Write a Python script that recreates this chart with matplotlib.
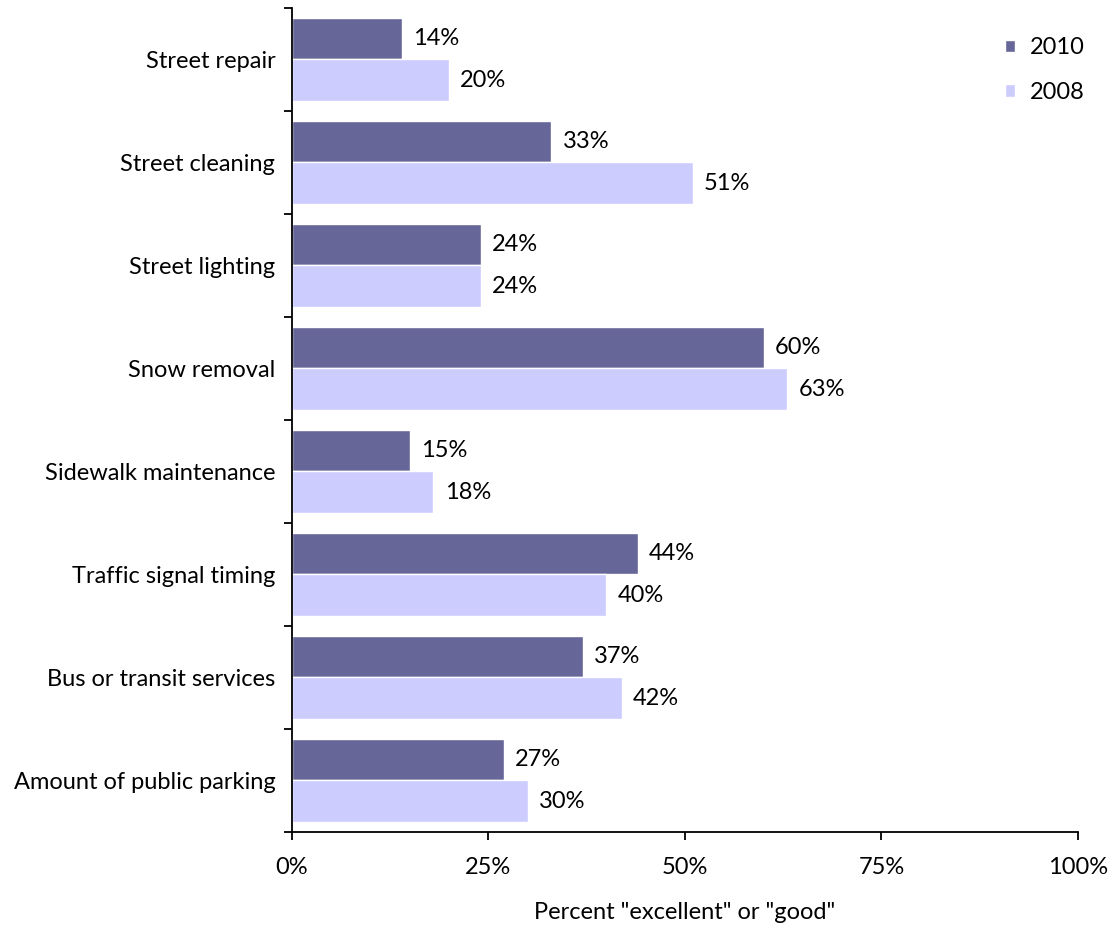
import matplotlib.pyplot as plt
import numpy as np
from matplotlib.ticker import FixedLocator, PercentFormatter

plt.rcParams["font.family"] = ["Lato", "DejaVu Sans"]

services = [
    "Street repair",
    "Street cleaning",
    "Street lighting",
    "Snow removal",
    "Sidewalk maintenance",
    "Traffic signal timing",
    "Bus or transit services",
    "Amount of public parking",
]
pct_2010 = [14, 33, 24, 60, 15, 44, 37, 27]
pct_2008 = [20, 51, 24, 63, 18, 40, 42, 30]

color_2010 = "#666699"
color_2008 = "#ccccff"
fs = 17

fig = plt.figure(figsize=(11.11, 9.30), dpi=100)
ax = fig.add_axes([0.2628, 0.1054, 0.7075, 0.886])

y = np.arange(len(services))
h = 0.4
b1 = ax.barh(y - h / 2, pct_2010, height=h, color=color_2010,
             edgecolor="white", linewidth=1, label="2010")
b2 = ax.barh(y + h / 2, pct_2008, height=h, color=color_2008,
             edgecolor="white", linewidth=1, label="2008")

for bars, vals in ((b1, pct_2010), (b2, pct_2008)):
    ax.bar_label(bars, labels=[f"{v}%" for v in vals], padding=8, fontsize=fs)

ax.set_xlim(0, 100)
ax.set_ylim(len(services) - 0.5, -0.5)
ax.set_xticks([0, 25, 50, 75, 100])
ax.xaxis.set_major_formatter(PercentFormatter(decimals=0))

# category labels sit between the boundary ticks
ax.set_yticks(y)
ax.set_yticklabels(services)
ax.yaxis.set_minor_locator(FixedLocator(np.arange(len(services) + 1) - 0.5))
ax.tick_params(axis="y", which="major", length=0, pad=12, labelsize=fs)
ax.tick_params(axis="y", which="minor", length=6, width=1.3, direction="out")
ax.tick_params(axis="x", length=6, width=1.3, direction="out", pad=12, labelsize=fs)

for side in ("top", "right"):
    ax.spines[side].set_visible(False)
for side in ("left", "bottom"):
    ax.spines[side].set_linewidth(1.3)

ax.set_xlabel('Percent "excellent" or "good"', fontsize=fs, labelpad=17)

ax.legend(loc="upper right", bbox_to_anchor=(1.035, 0.99), frameon=False,
          fontsize=fs, handlelength=0.45, handleheight=0.45, handletextpad=0.6,
          labelspacing=1.0)

fig.savefig("out.png", dpi=100)
